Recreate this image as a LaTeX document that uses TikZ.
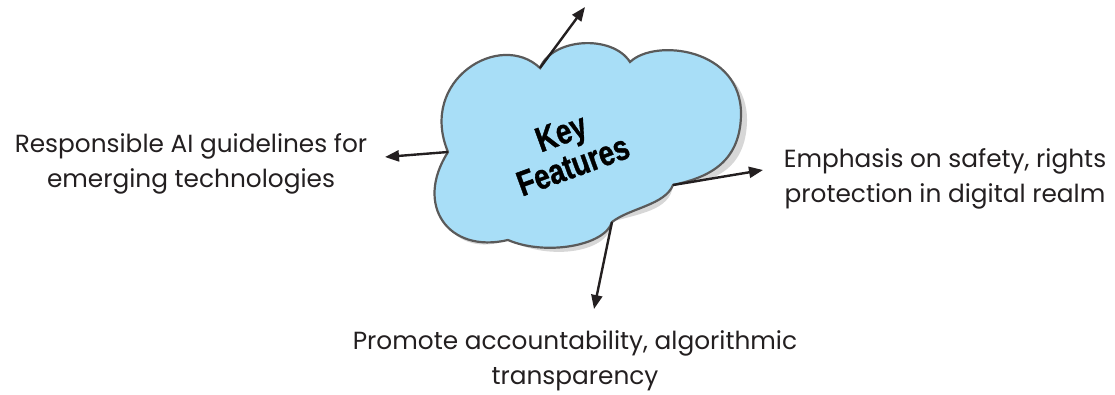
\documentclass[tikz,border=0pt]{standalone}
\usepackage{fontspec}
\setmainfont{Poppins}
\newfontfamily\keyfont[FakeBold=1.2]{Liberation Sans Bold}
\usetikzlibrary{arrows.meta}
\definecolor{cloudfill}{RGB}{168,222,247}
\definecolor{cloudline}{RGB}{90,90,90}
\definecolor{shadowc}{RGB}{215,215,215}
\definecolor{txt}{RGB}{35,31,32}
\newcommand\cloudshape{(c1) .. controls (552,38) and (612,34) .. (c2)
 .. controls (655,38) and (742,48) .. (741,115)
 .. controls (740,165) and (705,178) .. (c4)
 .. controls (665,205) and (630,208) .. (c5)
 .. controls (605,246) and (545,256) .. (c6)
 .. controls (448,254) and (414,205) .. (c7)
 .. controls (418,80) and (500,30) .. (c1) -- cycle}
\begin{document}
\begin{tikzpicture}[x=1pt,y=-1pt,
 lbl/.style={align=center,inner sep=0pt,font=\fontsize{24.8}{35}\selectfont,text=txt},
 arr/.style={line width=2.4pt,draw=txt,-{Triangle[length=14pt,width=11pt]}},
 keytext/.style={align=center,inner sep=0pt,rotate=20,xscale=0.8,font=\keyfont\fontsize{35}{35}\selectfont,text=black}]
\useasboundingbox (0,0) rectangle (1115,394);
\coordinate (c1) at (540,68);
\coordinate (c2) at (630,62);
\coordinate (c4) at (673,185);
\coordinate (c5) at (612,222);
\coordinate (c6) at (508,240);
\coordinate (c7) at (448,152);
\begin{scope}[shift={(6,6)}]
\path[fill=shadowc] \cloudshape;
\end{scope}
\path[fill=cloudfill,draw=cloudline,line width=2.2pt] \cloudshape;
\node[keytext] (key) at (567,149) {Key\\Features};
\node[lbl] (left) at (191,164) {Responsible AI guidelines for\\emerging technologies};
\node[lbl] (right) at (945,179) {Emphasis on safety, rights\\protection in digital realm};
\node[lbl] (bottom) at (575,361) {Promote accountability, algorithmic\\transparency};
\coordinate (ttop) at (585,7);
\coordinate (tleft) at (385,157);
\coordinate (tright) at (763,170);
\coordinate (tbottom) at (594,309);
\draw[arr] (c1) -- (ttop);
\draw[arr] (c7) -- (tleft);
\draw[arr] (c4) -- (tright);
\draw[arr] (c5) -- (tbottom);
\end{tikzpicture}
\end{document}
